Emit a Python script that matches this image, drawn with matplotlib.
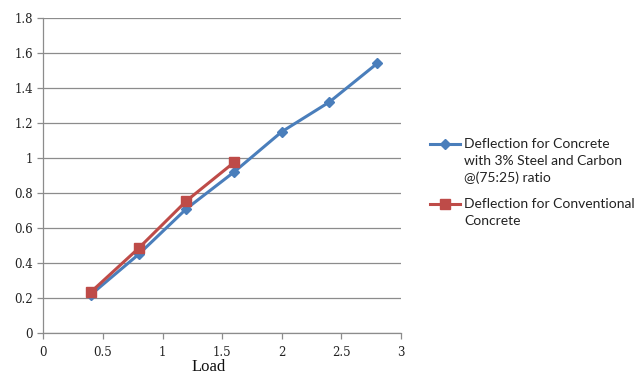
import matplotlib
matplotlib.use("Agg")
import matplotlib.pyplot as plt
from matplotlib.lines import Line2D

# Load vs. deflection readings
load_steel_carbon = [0.4, 0.8, 1.2, 1.6, 2.0, 2.4, 2.8]
defl_steel_carbon = [0.22, 0.45, 0.71, 0.92, 1.15, 1.32, 1.54]

load_conventional = [0.4, 0.8, 1.2, 1.6]
defl_conventional = [0.235, 0.485, 0.755, 0.975]

x_ticks = [0, 0.5, 1, 1.5, 2, 2.5, 3]
x_tick_labels = ["0", "0.5", "1", "1.5", "2", "2.5", "3"]
y_ticks = [0, 0.2, 0.4, 0.6, 0.8, 1.0, 1.2, 1.4, 1.6, 1.8]
y_tick_labels = ["0", "0.2", "0.4", "0.6", "0.8", "1", "1.2", "1.4", "1.6", "1.8"]

label_steel_carbon = "Deflection for Concrete\nwith 3% Steel and Carbon\n@(75:25) ratio"
label_conventional = "Deflection for Conventional\nConcrete"

W, H = 638, 374
fig = plt.figure(figsize=(W / 100, H / 100), dpi=100)
ax = fig.add_axes([0.068, 0.1096, 0.5605, 0.8424])

blue = "#4a7ebb"
red = "#be4b48"
grid_col = "#8c8c8c"

ax.plot(load_steel_carbon, defl_steel_carbon, color=blue, lw=2.2,
        marker="D", ms=5, mfc=blue, mec=blue, zorder=3)
ax.plot(load_conventional, defl_conventional, color=red, lw=2.2,
        marker="s", ms=7.5, mfc=red, mec=red, zorder=4)

ax.set_xlim(0, 3)
ax.set_ylim(0, 1.8)
ax.set_xticks(x_ticks)
ax.set_xticklabels(x_tick_labels)
ax.set_yticks(y_ticks)
ax.set_yticklabels(y_tick_labels)

ax.yaxis.grid(True, color=grid_col, lw=0.9)
ax.set_axisbelow(True)
for s in ["top", "right"]:
    ax.spines[s].set_visible(False)
for s in ["left", "bottom"]:
    ax.spines[s].set_color(grid_col)
    ax.spines[s].set_linewidth(0.9)

ax.tick_params(axis="both", colors=grid_col, length=4, width=0.9,
               labelcolor="#222222", labelsize=8.5)
ax.tick_params(axis="x", pad=5)
for lbl in ax.get_xticklabels() + ax.get_yticklabels():
    lbl.set_family("DejaVu Serif")

ax.set_xlabel("Load", family="Liberation Serif", fontsize=12,
              color="#111111", va="baseline")
ax.xaxis.set_label_coords(0.463, -0.12)


def place(y_first_line_px, color, marker, ms, text):
    """Legend entry whose handle is centred on the label's first line."""
    nlines = text.count("\n")
    line_px = 17
    yf_base = 1 - (y_first_line_px + 4 + nlines * line_px) / H
    yf = 1 - y_first_line_px / H
    fig.add_artist(Line2D([430 / W, 460 / W], [yf, yf], color=color, lw=2.2,
                          transform=fig.transFigure))
    fig.add_artist(Line2D([445 / W], [yf], color=color, marker=marker, ms=ms,
                          mfc=color, mec=color, transform=fig.transFigure))
    fig.text(464 / W, yf_base, text, family="Lato", fontsize=10,
             color="#222222", va="baseline", ha="left", linespacing=1.45)


place(144, blue, "D", 5, label_steel_carbon)
place(204, red, "s", 7.5, label_conventional)

fig.savefig("out.png", dpi=100)
